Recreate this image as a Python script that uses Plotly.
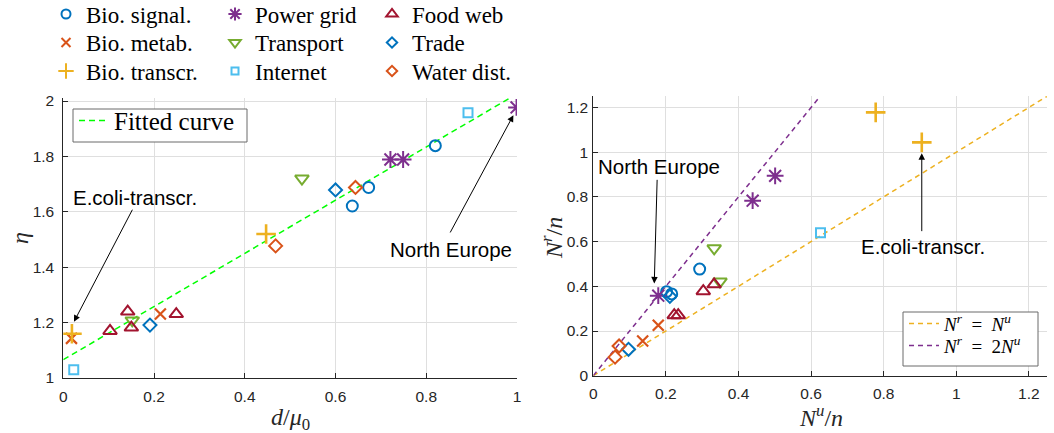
import plotly.graph_objects as go

# ---------------- data ----------------
categories = ["Bio. signal.", "Bio. metab.", "Bio. transcr.", "Power grid", "Transport",
              "Internet", "Food web", "Trade", "Water dist."]

# left panel: d/mu0 vs eta
sig_d = [0.637, 0.673, 0.820];            sig_eta = [1.621, 1.688, 1.839]
met_d = [0.018, 0.214];                   met_eta = [1.143, 1.231]
trs_d = [0.019, 0.447];                   trs_eta = [1.160, 1.520]
pow_d = [0.721, 0.749, 0.999];            pow_eta = [1.789, 1.789, 1.977]
tra_d = [0.152, 0.526];                   tra_eta = [1.208, 1.720]
int_d = [0.023, 0.892];                   int_eta = [1.030, 1.958]
food_d = [0.103, 0.142, 0.150, 0.249];    food_eta = [1.170, 1.240, 1.182, 1.231]
trade_d = [0.191, 0.600];                 trade_eta = [1.191, 1.679]
wat_d = [0.468, 0.644];                   wat_eta = [1.477, 1.688]
fit_d = [0.0, 1.0];                       fit_eta = [1.066, 2.026]

# right panel: N^u/n vs N^r/n
sig_u = [0.202, 0.216, 0.293];            sig_r = [0.376, 0.366, 0.477]
met_u = [0.136, 0.179];                   met_r = [0.155, 0.226]
trs_u = [0.778, 0.905];                   trs_r = [1.178, 1.044]
pow_u = [0.179, 0.439, 0.501];            pow_r = [0.358, 0.783, 0.894]
tra_u = [0.333, 0.349];                   tra_r = [0.570, 0.421]
int_u = [0.626];                          int_r = [0.640]
food_u = [0.223, 0.234, 0.303, 0.333];    food_r = [0.271, 0.271, 0.378, 0.409]
trade_u = [0.097, 0.211];                 trade_r = [0.118, 0.355]
wat_u = [0.060, 0.071];                   wat_r = [0.083, 0.133]
eq_u = [0.0, 1.25];                       eq_r = [0.0, 1.25]
dbl_u = [0.0, 0.625];                     dbl_r = [0.0, 1.25]

x_ticks_left = [0, 0.2, 0.4, 0.6, 0.8, 1]
y_ticks_left = [1, 1.2, 1.4, 1.6, 1.8, 2]
ticks_right = [0, 0.2, 0.4, 0.6, 0.8, 1, 1.2]

# ---------------- styles ----------------
left_data = [(sig_d, sig_eta), (met_d, met_eta), (trs_d, trs_eta), (pow_d, pow_eta),
             (tra_d, tra_eta), (int_d, int_eta), (food_d, food_eta), (trade_d, trade_eta),
             (wat_d, wat_eta)]
right_data = [(sig_u, sig_r), (met_u, met_r), (trs_u, trs_r), (pow_u, pow_r),
              (tra_u, tra_r), (int_u, int_r), (food_u, food_r), (trade_u, trade_r),
              (wat_u, wat_r)]
colors = ["#0072BD", "#D95319", "#EDB120", "#7E2F8E", "#77AC30", "#4DBEEE",
          "#A2142F", "#0072BD", "#D95319"]
symbols = ["circle-open", "x-thin-open", "cross-thin-open", "asterisk-open",
           "triangle-down-open", "square-open", "triangle-up-open",
           "diamond-open", "diamond-open"]
sizes = [11, 11, 14, 14, 12, 9, 12, 10, 10]
leg_sizes = [9, 9, 11, 11, 10, 7, 10, 8, 8]
widths = [2, 2.2, 2.6, 2, 2, 2, 2, 2, 2]

W, H = 1054, 433
def px(v):
    return v / W
def py(v):
    return 1 - v / H

# top legend grid: 3 columns x 3 rows, one legend per entry
col_left = [46, 215, 372]
row_center = [19, 47.5, 76]
serif = "Liberation Serif, Times New Roman, serif"
top_size = 23
def leg_top(center, size):
    h = size * 1.3 + 3
    return center - (h / 2 + 10)

fig = go.Figure()

# reference lines first (below markers)
fig.add_trace(go.Scatter(x=fit_d, y=fit_eta, mode="lines", name="Fitted curve",
                         line=dict(color="#00FF00", width=1.5, dash="6px,4px"),
                         xaxis="x", yaxis="y", legend="legend10"))
fig.add_trace(go.Scatter(x=eq_u, y=eq_r, mode="lines",
                         name="<i>N</i><sup><i>r</i></sup>\u2002=\u2002<i>N</i><sup><i>u</i></sup>",
                         line=dict(color="#EDB120", width=1.5, dash="5px,4px"),
                         xaxis="x2", yaxis="y2", legend="legend11"))
fig.add_trace(go.Scatter(x=dbl_u, y=dbl_r, mode="lines",
                         name="<i>N</i><sup><i>r</i></sup>\u2002=\u20022<i>N</i><sup><i>u</i></sup>",
                         line=dict(color="#7E2F8E", width=1.5, dash="5px,4px"),
                         xaxis="x2", yaxis="y2", legend="legend12"))

for i, name in enumerate(categories):
    mk = dict(symbol=symbols[i], size=sizes[i], color=colors[i],
              line=dict(width=widths[i], color=colors[i]))
    lx, ly = left_data[i]
    rx, ry = right_data[i]
    fig.add_trace(go.Scatter(x=lx, y=ly, mode="markers", name=name, marker=mk,
                             xaxis="x", yaxis="y", showlegend=False))
    fig.add_trace(go.Scatter(x=rx, y=ry, mode="markers", name=name, marker=mk,
                             xaxis="x2", yaxis="y2", showlegend=False))
    # legend entry (smaller marker, like the reference legend)
    lid = "legend" if i == 0 else "legend%d" % (i + 1)
    col, row = i // 3, i % 3
    fig.add_trace(go.Scatter(x=[None], y=[None], mode="markers", name=name,
                             marker=dict(symbol=symbols[i], size=leg_sizes[i], color=colors[i],
                                         line=dict(width=2, color=colors[i])),
                             xaxis="x", yaxis="y", legend=lid, showlegend=True))
    fig.update_layout(**{lid: dict(x=px(col_left[col]), y=py(leg_top(row_center[row], top_size)),
                                   xanchor="left", yanchor="top",
                                   bgcolor="rgba(0,0,0,0)", borderwidth=0,
                                   font=dict(family=serif, size=top_size, color="#000000"),
                                   itemclick=False, itemdoubleclick=False)})

axis_common = dict(showline=True, linecolor="#262626", linewidth=1,
                   ticks="inside", ticklen=5, tickcolor="#262626",
                   showgrid=True, gridcolor="#dfdfdf", gridwidth=1,
                   zeroline=False, mirror=False,
                   tickfont=dict(family="Liberation Sans, Arial, sans-serif",
                                 size=15.5, color="#262626"))

fig.update_layout(
    width=W, height=H, margin=dict(l=0, r=0, t=0, b=0, autoexpand=False),
    paper_bgcolor="white", plot_bgcolor="white",
    xaxis=dict(domain=[px(63.3), px(517)], range=[0, 1], tickvals=x_ticks_left,
               anchor="y", ticklabelstandoff=4, **axis_common),
    yaxis=dict(domain=[py(378), py(98)], range=[1, 2.011], tickvals=y_ticks_left,
               anchor="x", ticklabelstandoff=5, **axis_common),
    xaxis2=dict(domain=[px(593.3), px(1047)], range=[0, 1.25], tickvals=ticks_right,
                anchor="y2", ticklabelstandoff=4, **axis_common),
    yaxis2=dict(domain=[py(375.7), py(96.3)], range=[0, 1.25], tickvals=ticks_right,
                anchor="x2", ticklabelstandoff=1, **axis_common),
    showlegend=True,
)

# boxed legends (box drawn as a shape, entries as plotly legends)
fit_size = 25
rl_size = 19
fig.update_layout(
    legend10=dict(x=px(74), y=py(leg_top(125.5, fit_size)), xanchor="left", yanchor="top",
                  bgcolor="rgba(0,0,0,0)", borderwidth=0,
                  font=dict(family=serif, size=fit_size, color="#000000")),
    legend11=dict(x=px(904), y=py(leg_top(328.5, rl_size)), xanchor="left", yanchor="top",
                  bgcolor="rgba(0,0,0,0)", borderwidth=0,
                  font=dict(family=serif, size=rl_size, color="#000000")),
    legend12=dict(x=px(904), y=py(leg_top(350.5, rl_size)), xanchor="left", yanchor="top",
                  bgcolor="rgba(0,0,0,0)", borderwidth=0,
                  font=dict(family=serif, size=rl_size, color="#000000")),
)
for (x0, y0, x1, y1) in [(73, 109, 247, 142), (903, 312, 1038, 366)]:
    fig.add_shape(type="rect", xref="paper", yref="paper",
                  x0=px(x0), x1=px(x1), y0=py(y1), y1=py(y0),
                  line=dict(color="#6a6a6a", width=1), fillcolor="white", layer="above")

# axis titles
title_font = dict(family=serif, size=24, color="#262626")
annos = [
    dict(text="<i>d</i>/<i>μ</i><sub>0</sub>", x=px(290), y=py(419)),
    dict(text="<i>η</i>", x=px(20), y=py(238), textangle=-90),
    dict(text="<i>N</i><sup><i>u</i></sup>/<i>n</i>", x=px(821), y=py(416)),
    dict(text="<i>N</i><sup><i>r</i></sup>/<i>n</i>", x=px(552), y=py(238), textangle=-90),
]
for a in annos:
    fig.add_annotation(xref="paper", yref="paper", xanchor="center", yanchor="middle",
                       showarrow=False, font=title_font, **a)

# labels and arrows (data coordinates)
lab_font = dict(family="Liberation Sans, Arial, sans-serif", size=20.5, color="#000000")
labels = [
    ("E.coli-transcr.", 0.158, 1.650, "x", "y"),
    ("North Europe", 0.855, 1.465, "x", "y"),
    ("North Europe", 0.181, 0.935, "x2", "y2"),
    ("E.coli-transcr.", 0.909, 0.577, "x2", "y2"),
]
for t, x, y, xr, yr in labels:
    fig.add_annotation(text=t, x=x, y=y, xref=xr, yref=yr, showarrow=False,
                       xanchor="center", yanchor="middle", font=lab_font)

arrows = [  # (head_x, head_y, tail_x, tail_y, xref, yref)
    (0.0235, 1.203, 0.154, 1.613, "x", "y"),
    (0.992, 1.949, 0.851, 1.520, "x", "y"),
    (0.168, 0.413, 0.176, 0.883, "x2", "y2"),
    (0.905, 0.995, 0.905, 0.640, "x2", "y2"),
]
for hx, hy, tx, ty, xr, yr in arrows:
    fig.add_annotation(text="", x=hx, y=hy, ax=tx, ay=ty, xref=xr, yref=yr,
                       axref=xr, ayref=yr, showarrow=True, arrowhead=2,
                       arrowsize=1.3, arrowwidth=1, arrowcolor="#000000",
                       standoff=0, startstandoff=0)

fig.write_html("out.html")
